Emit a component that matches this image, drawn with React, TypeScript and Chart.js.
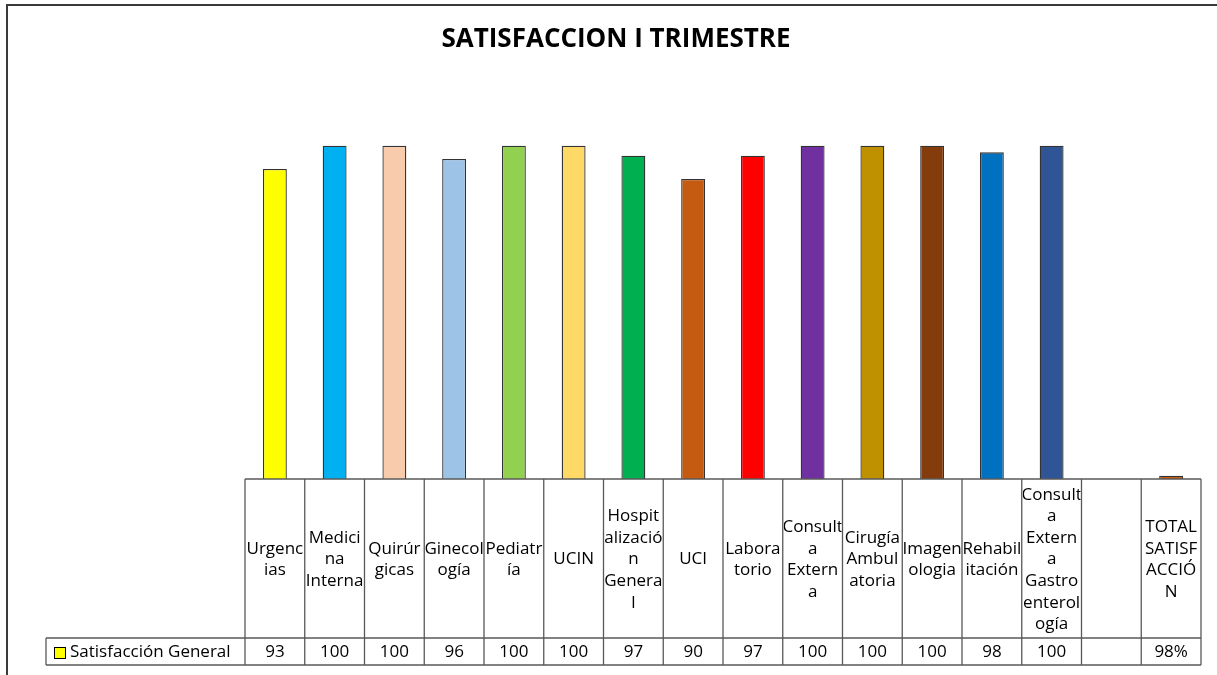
import React, { useEffect, useRef } from "react";
import { Chart, registerables } from "chart.js";

Chart.register(...registerables);

const TITLE = "SATISFACCION I TRIMESTRE";
const SERIES_NAME = "Satisfacción General";

const categoryLines: string[][] = [
  ["Urgenc", "ias"],
  ["Medici", "na", "Interna"],
  ["Quirúr", "gicas"],
  ["Ginecol", "ogía"],
  ["Pediatr", "ía"],
  ["UCIN"],
  ["Hospit", "alizació", "n", "Genera", "l"],
  ["UCI"],
  ["Labora", "torio"],
  ["Consult", "a", "Extern", "a"],
  ["Cirugía", "Ambul", "atoria"],
  ["Imagen", "ologia"],
  ["Rehabil", "itación"],
  ["Consult", "a", "Extern", "a", "Gastro", "enterol", "ogía"],
  [""],
  ["TOTAL", "SATISF", "ACCIÓ", "N"],
];

const values: (number | null)[] = [93, 100, 100, 96, 100, 100, 97, 90, 97, 100, 100, 100, 98, 100, null, 0.98];

const valueLabels: string[] = ["93", "100", "100", "96", "100", "100", "97", "90", "97", "100", "100", "100", "98", "100", "", "98%"];

const barColors: string[] = [
  "#FFFF00", "#00B0F0", "#F8CBAD", "#9DC3E6", "#92D050", "#FFD966", "#00B050", "#C55A11",
  "#FF0000", "#7030A0", "#BF9000", "#843C0C", "#0070C0", "#2F5597", "#FFFFFF", "#C55A11",
];

const FONT = '"Open Sans", "Noto Sans", sans-serif';

const tablePlugin = {
  id: "excelTable",
  afterDraw(chart: any) {
    const ctx: CanvasRenderingContext2D = chart.ctx;
    const area = chart.chartArea;
    const xs = chart.scales.x;
    const n = categoryLines.length;
    const colW = (area.right - area.left) / n;
    const tableTop = area.bottom;
    const labelBottom = tableTop + 159;
    const rowBottom = labelBottom + 27;
    const legendLeft = 46;

    ctx.save();
    // outer chart border
    ctx.strokeStyle = "#3a3a3a";
    ctx.lineWidth = 2;
    ctx.strokeRect(7, 5, 1400, 1000);

    // title
    ctx.fillStyle = "#000";
    ctx.font = `bold 26px ${FONT}`;
    ctx.textAlign = "center";
    ctx.textBaseline = "middle";
    ctx.fillText(TITLE, 616, 40);

    // table lines
    ctx.strokeStyle = "#595959";
    ctx.lineWidth = 1.3;
    ctx.beginPath();
    ctx.moveTo(area.left, tableTop);
    ctx.lineTo(area.right, tableTop);
    ctx.moveTo(legendLeft, labelBottom);
    ctx.lineTo(area.right, labelBottom);
    ctx.moveTo(legendLeft, rowBottom);
    ctx.lineTo(area.right, rowBottom);
    ctx.moveTo(legendLeft, labelBottom);
    ctx.lineTo(legendLeft, rowBottom);
    for (let i = 0; i <= n; i++) {
      const x = area.left + i * colW;
      ctx.moveTo(x, tableTop);
      ctx.lineTo(x, rowBottom);
    }
    ctx.stroke();

    // category labels
    ctx.fillStyle = "#000";
    ctx.font = `17px ${FONT}`;
    const lh = 21.6;
    const midY = (tableTop + labelBottom) / 2 + 1;
    for (let i = 0; i < n; i++) {
      const cx = xs.getPixelForValue(i);
      const left = cx - colW / 2;
      const lines = categoryLines[i];
      ctx.save();
      ctx.beginPath();
      ctx.rect(left + 1, tableTop, colW - 2, labelBottom - tableTop);
      ctx.clip();
      const startY = midY - ((lines.length - 1) / 2) * lh;
      lines.forEach((t, k) => ctx.fillText(t, cx, startY + k * lh));
      ctx.restore();
      ctx.fillText(valueLabels[i], cx, (labelBottom + rowBottom) / 2 + 1);
    }

    // legend cell
    ctx.fillStyle = "#FFFF00";
    ctx.fillRect(54, 647, 11, 11);
    ctx.strokeStyle = "#000";
    ctx.lineWidth = 1;
    ctx.strokeRect(54.5, 647.5, 11, 11);
    ctx.fillStyle = "#000";
    ctx.textAlign = "left";
    ctx.fillText(SERIES_NAME, 70, (labelBottom + rowBottom) / 2 + 1);
    ctx.restore();
  },
};

export default function App() {
  const ref = useRef<HTMLCanvasElement>(null);
  useEffect(() => {
    if (!ref.current) return;
    const chart = new Chart(ref.current, {
      type: "bar",
      data: {
        labels: categoryLines.map((l) => l.join("")),
        datasets: [
          {
            label: SERIES_NAME,
            data: values,
            backgroundColor: barColors,
            borderColor: "#333333",
            borderWidth: 1.3,
            barPercentage: 0.5,
            categoryPercentage: 0.8,
          },
        ],
      },
      options: {
        responsive: false,
        animation: false,
        layout: { padding: { left: 245, right: 16, top: 79, bottom: 196 } },
        plugins: {
          legend: { display: false },
          title: { display: false },
          tooltip: { enabled: false },
        },
        scales: {
          x: { display: false },
          y: { display: false, min: 0, max: 120 },
        },
      },
      plugins: [tablePlugin],
    });
    return () => chart.destroy();
  }, []);
  return (
    <div style={{ position: "absolute", left: 0, top: 0, width: 1217, height: 675, background: "#fff" }}>
      <canvas ref={ref} width={1217} height={675} />
    </div>
  );
}
